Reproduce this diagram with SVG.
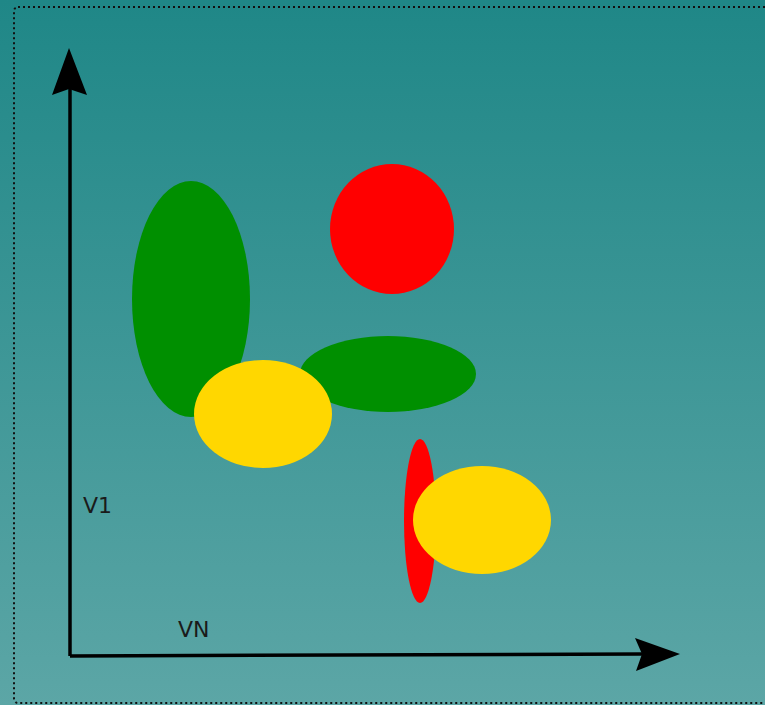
<svg xmlns="http://www.w3.org/2000/svg" width="765" height="705" viewBox="0 0 765 705">
<defs>
<linearGradient id="bg" x1="0" y1="0" x2="0" y2="1">
<stop offset="0" stop-color="#1f8787"/>
<stop offset="1" stop-color="#5ca6a6"/>
</linearGradient>
</defs>
<style>
.axis{stroke:#000;stroke-width:3.5;fill:none}
.head{fill:#000}
.lbl{font-family:"DejaVu Sans",sans-serif;font-size:22px;fill:#1a1a1a}
.green{fill:#008f00}
.red{fill:#ff0000}
.yellow{fill:#ffd700}
</style>
<rect x="0" y="0" width="765" height="705" fill="url(#bg)"/>
<rect x="14" y="7" width="770" height="696" rx="4" fill="none" stroke="#111" stroke-width="2" stroke-dasharray="2,3"/>
<g id="connectors">
<path class="axis" d="M70,656 L70,88"/>
<path class="head" d="M69,48 L87,95 L69,89 L52,95 Z"/>
<path class="axis" d="M70,656 L642,654"/>
<path class="head" d="M680,654 L636,671 L642,654 L635,638 Z"/>
</g>
<g id="green-tall"><ellipse class="green" cx="191" cy="299" rx="59" ry="118"/></g>
<g id="red-circle"><ellipse class="red" cx="392" cy="229" rx="62" ry="65"/></g>
<g id="green-wide"><ellipse class="green" cx="388" cy="374" rx="88" ry="38"/></g>
<g id="yellow-1"><ellipse class="yellow" cx="263" cy="414" rx="69" ry="54"/></g>
<g id="red-thin"><ellipse class="red" cx="420" cy="521" rx="16" ry="82"/></g>
<g id="yellow-2"><ellipse class="yellow" cx="482" cy="520" rx="69" ry="54"/></g>
<g id="label-v1"><text class="lbl" x="83" y="513">V1</text></g>
<g id="label-vn"><text class="lbl" x="178" y="637">VN</text></g>
</svg>
